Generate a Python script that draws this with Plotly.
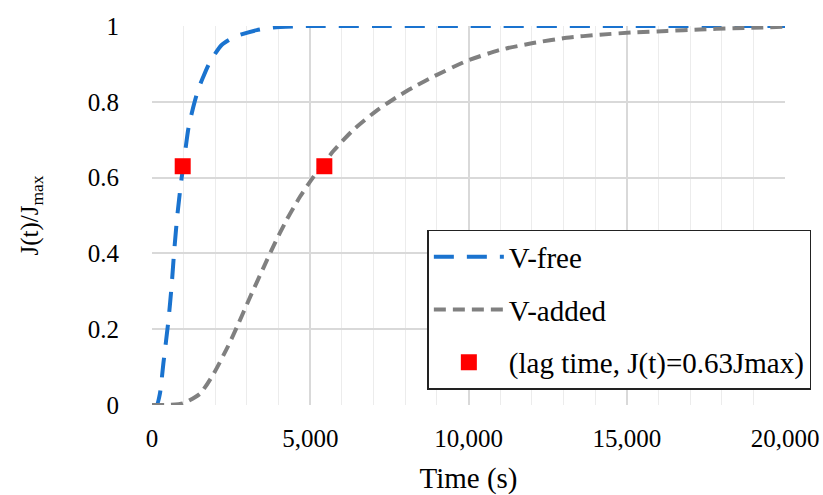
import plotly.graph_objects as go

vfree_t = [0, 150, 250, 360, 520, 620, 705, 800, 915, 1040, 1150, 1300, 1450, 1620, 1830, 2200, 2620, 3310, 3830, 5000, 7000, 10000, 15000, 20000]
vfree_j = [0, 0, 0.03, 0.11, 0.224, 0.315, 0.41, 0.50, 0.585, 0.664, 0.73, 0.785, 0.83, 0.866, 0.905, 0.95, 0.972, 0.989, 0.996, 1.0, 1.0, 1.0, 1.0, 1.0]

vadded_t = [0, 500, 980, 1520, 1930, 2360, 2680, 3100, 3520, 3830, 4250, 4680, 5100, 5730, 6360, 7100, 7840, 8360, 8880, 9950, 11000, 12040, 13100, 14150, 15200, 16270, 17300, 18360, 20000]
vadded_j = [0, 0.0, 0.004, 0.03, 0.08, 0.148, 0.205, 0.285, 0.362, 0.418, 0.488, 0.55, 0.602, 0.67, 0.726, 0.777, 0.818, 0.843, 0.866, 0.908, 0.937, 0.955, 0.969, 0.977, 0.983, 0.987, 0.991, 0.994, 0.998]

lag_t = [970, 5445]
lag_j = [0.63, 0.63]

names = ["V-free", "V-added", "(lag time, J(t)=0.63Jmax)"]

FONT = "Liberation Serif"

fig = go.Figure()
fig.add_trace(go.Scatter(x=vfree_t, y=vfree_j, mode="lines", name=names[0],
                         line=dict(color="#1a73cf", width=4, dash="20px,13px", shape="spline", smoothing=0.6),
                         cliponaxis=False, legendgroup="a"))
fig.add_trace(go.Scatter(x=vadded_t, y=vadded_j, mode="lines", name=names[1],
                         line=dict(color="#808080", width=4, dash="12px,7px", shape="spline", smoothing=0.6),
                         cliponaxis=False, legendgroup="b"))
fig.add_trace(go.Scatter(x=lag_t, y=lag_j, mode="markers", name=names[2],
                         marker=dict(color="#ff0000", size=16, symbol="square"),
                         cliponaxis=False, legendgroup="c"))

fig.update_layout(
    width=823, height=495,
    margin=dict(l=152, r=38, t=26, b=90, autoexpand=False),
    paper_bgcolor="white", plot_bgcolor="white",
    font=dict(family=FONT, size=25, color="black"),
    legend=dict(x=0.435, y=0.462, xanchor="left", yanchor="top",
                bgcolor="white", bordercolor="#222222", borderwidth=1.5,
                font=dict(family=FONT, size=29, color="black"),
                tracegroupgap=12, itemwidth=70, traceorder="grouped"),
    showlegend=True,
)
fig.update_xaxes(range=[0, 20000], tickvals=[0, 5000, 10000, 15000, 20000],
                 tickformat=",d", showgrid=True, gridcolor="#d9d9d9", gridwidth=1.5,
                 minor=dict(dtick=1000, showgrid=True, gridcolor="#ececec", gridwidth=1),
                 zeroline=False, showline=False, ticks="", ticklabelstandoff=16,
                 automargin=False, ticklabeloverflow="allow",
                 tickfont=dict(family=FONT, size=25),
                 title=dict(text="Time (s)", font=dict(family=FONT, size=29), standoff=16))
fig.update_yaxes(range=[0, 1], tickvals=[0, 0.2, 0.4, 0.6, 0.8, 1],
                 showgrid=True, gridcolor="#d9d9d9", gridwidth=1.5,
                 zeroline=False, showline=False, ticks="", ticklabelstandoff=32,
                 automargin=False,
                 tickfont=dict(family=FONT, size=25),
                 title=dict(text="J(t)/J<sub>max</sub>", font=dict(family=FONT, size=25), standoff=42))

fig.write_html("out.html")
